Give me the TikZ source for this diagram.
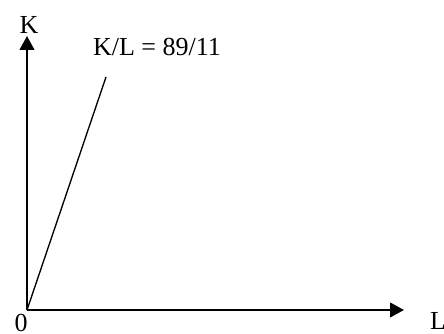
\documentclass[tikz,border=0pt]{standalone}
\usepackage{fontspec}
\setmainfont{Liberation Serif}
\usetikzlibrary{positioning,arrows.meta}

\begin{document}
\begin{tikzpicture}[
  x=0.75pt, y=-0.75pt,
  axis/.style={-{Triangle[length=10.5pt,width=11pt]}, line width=1.6pt},
  ray/.style={line width=1pt},
  lbl/.style={font=\fontsize{19.5}{21}\selectfont, inner sep=0pt}
]
\useasboundingbox (0,0) rectangle (444,334);

\coordinate (O)    at (27,310);
\coordinate (ytop) at (27,36);
\coordinate (xend) at (404,310);
\coordinate (rend) at (106,77);

% axes
\draw[axis] (O) -- (ytop);
\draw[axis] (O) -- (xend);
\draw[ray]  (O) -- (rend);

\node[lbl] (klab)  at (29,25)   {K};
\node[lbl] (llab)  at (438,321) {L};
\node[lbl] (zero)  at (21,323)  {0};
\node[lbl] (ratio) at (157,47)  {K/L = 89/11};
\end{tikzpicture}
\end{document}
